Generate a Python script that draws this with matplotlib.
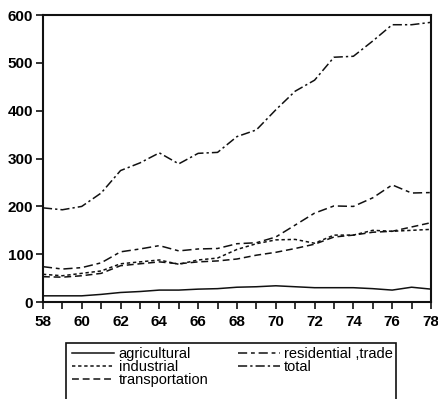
import matplotlib
matplotlib.use("Agg")
import matplotlib.pyplot as plt
from matplotlib.patches import Rectangle

plt.rcParams['font.family'] = ['Liberation Sans', 'DejaVu Sans']

years = list(range(58, 79))

agricultural = [13, 13, 13, 16, 20, 22, 25, 25, 27, 28, 31, 32, 34, 32, 30, 30, 30, 28, 25, 31, 27]
industrial = [58, 55, 60, 65, 80, 84, 88, 79, 88, 92, 110, 122, 130, 131, 123, 140, 140, 150, 148, 150, 152]
transportation = [53, 52, 55, 60, 76, 80, 84, 80, 84, 86, 90, 98, 104, 112, 121, 136, 140, 146, 148, 157, 166]
residential_trade = [74, 69, 72, 82, 105, 111, 118, 107, 111, 112, 122, 124, 136, 161, 186, 201, 200, 218, 245, 228, 229]
total = [197, 193, 200, 228, 275, 291, 312, 289, 311, 313, 346, 360, 402, 441, 464, 512, 514, 546, 580, 580, 585]

series_labels = ["agricultural", "industrial", "transportation", "residential ,trade", "total"]

W, H = 438, 399
fig = plt.figure(figsize=(W / 100, H / 100), dpi=100)
ax = fig.add_axes([0.098, 0.243, 0.886, 0.719])

ink = "#111111"
lw = 1.1
ax.plot(years, agricultural, color=ink, lw=lw, linestyle="-", label=series_labels[0])
ax.plot(years, industrial, color=ink, lw=lw, linestyle=(0, (2.2, 1.8)), label=series_labels[1])
ax.plot(years, transportation, color=ink, lw=lw, linestyle=(0, (4.5, 2.5)), label=series_labels[2])
ax.plot(years, residential_trade, color=ink, lw=lw, linestyle=(0, (6, 2.5, 2.5, 2.5)), label=series_labels[3])
ax.plot(years, total, color=ink, lw=lw, linestyle=(0, (6, 2, 1.5, 2)), label=series_labels[4])

ax.set_xlim(58, 78)
ax.set_ylim(0, 600)
ax.set_xticks(range(58, 79, 2))
ax.set_xticks(range(58, 79), minor=True)
ax.set_yticks(range(0, 601, 100))

for s in ax.spines.values():
    s.set_linewidth(1.5)
    s.set_color(ink)

ax.tick_params(axis="both", which="both", direction="out", color=ink, width=1.2)
ax.tick_params(axis="x", which="major", length=5, pad=4, labelsize=11)
ax.tick_params(axis="x", which="minor", length=5)
ax.tick_params(axis="y", which="major", length=5, pad=2, labelsize=11)
for lab in ax.get_xticklabels() + ax.get_yticklabels():
    lab.set_fontweight("bold")

# legend entries without their own frame; the box runs off the bottom edge
leg = fig.legend(loc="upper left", bbox_to_anchor=(72 / W, 1 - 347 / H), ncol=2,
                 fontsize=10.5, frameon=False, handlelength=2.9,
                 handletextpad=0.3, columnspacing=2.0, labelspacing=-0.08,
                 borderpad=0.0, borderaxespad=0)
box = Rectangle((66 / W, -0.02), (396 - 66) / W, (H - 343) / H + 0.02,
                transform=fig.transFigure, fill=False, edgecolor=ink, linewidth=1.2)
fig.patches.append(box)

fig.savefig("out.png", dpi=100)
